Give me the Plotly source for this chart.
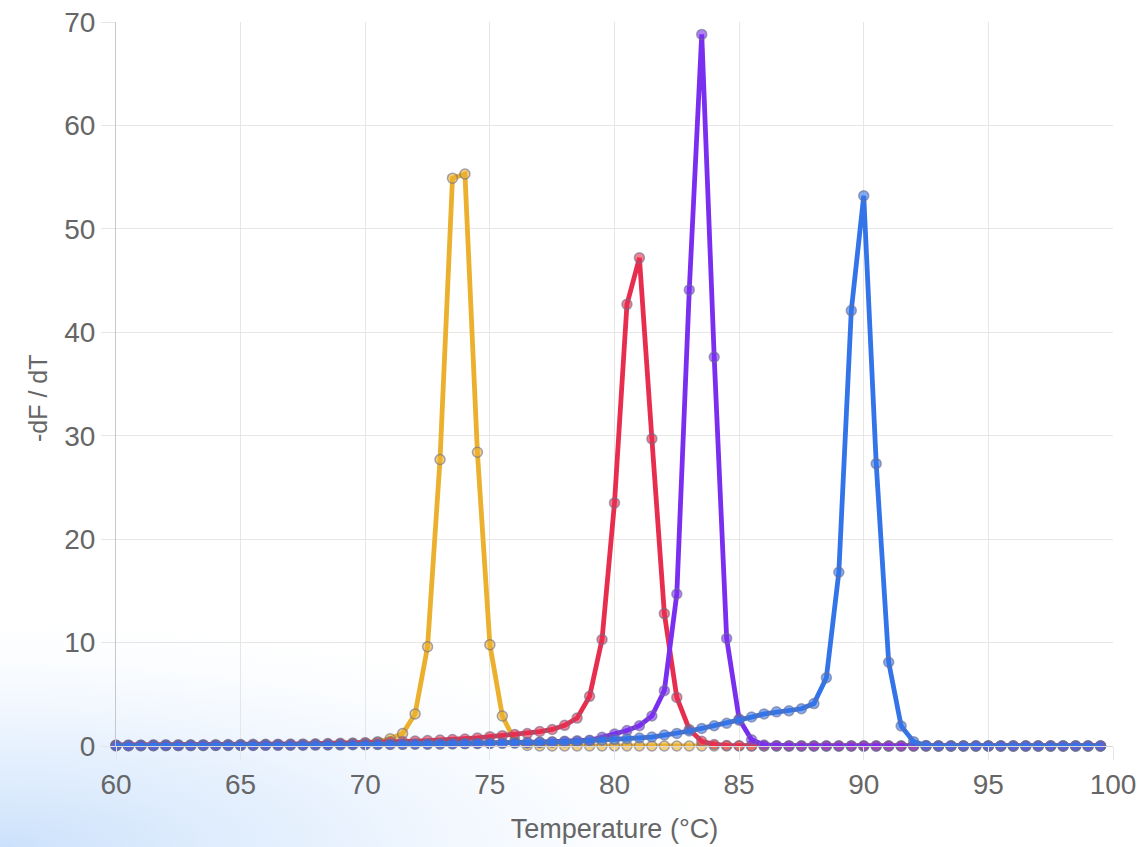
import base64
import plotly.graph_objects as go

temperature = [60.0, 60.5, 61.0, 61.5, 62.0, 62.5, 63.0, 63.5, 64.0, 64.5,
               65.0, 65.5, 66.0, 66.5, 67.0, 67.5, 68.0, 68.5, 69.0, 69.5,
               70.0, 70.5, 71.0, 71.5, 72.0, 72.5, 73.0, 73.5, 74.0, 74.5,
               75.0, 75.5, 76.0, 76.5, 77.0, 77.5, 78.0, 78.5, 79.0, 79.5,
               80.0, 80.5, 81.0, 81.5, 82.0, 82.5, 83.0, 83.5, 84.0, 84.5,
               85.0, 85.5, 86.0, 86.5, 87.0, 87.5, 88.0, 88.5, 89.0, 89.5,
               90.0, 90.5, 91.0, 91.5, 92.0, 92.5, 93.0, 93.5, 94.0, 94.5,
               95.0, 95.5, 96.0, 96.5, 97.0, 97.5, 98.0, 98.5, 99.0, 99.5]

yellow_vals = [0.05, 0.05, 0.05, 0.05, 0.06, 0.06, 0.07, 0.07, 0.08, 0.08,
               0.09, 0.1, 0.1, 0.11, 0.12, 0.13, 0.15, 0.17, 0.2, 0.24,
               0.3, 0.42, 0.7, 1.2, 3.1, 9.6, 27.7, 54.9, 55.3, 28.4,
               9.8, 2.9, 0.5, 0.05, 0, 0, 0, 0, 0, 0,
               0, 0, 0, 0, 0, 0, 0, 0, 0, 0,
               0, 0, 0, 0, 0, 0, 0, 0, 0, 0,
               0, 0, 0, 0, 0, 0, 0, 0, 0, 0,
               0, 0, 0, 0, 0, 0, 0, 0, 0, 0]

red_vals = [0.1, 0.1, 0.1, 0.11, 0.11, 0.12, 0.12, 0.13, 0.13, 0.14,
            0.15, 0.16, 0.17, 0.18, 0.19, 0.2, 0.22, 0.24, 0.26, 0.28,
            0.31, 0.35, 0.4, 0.44, 0.48, 0.52, 0.57, 0.62, 0.68, 0.78,
            0.9, 1.0, 1.1, 1.2, 1.4, 1.6, 2.0, 2.7, 4.8, 10.3,
            23.5, 42.7, 47.2, 29.7, 12.8, 4.7, 1.6, 0.45, 0.15, 0.05,
            0.02, 0.01, 0, 0, 0, 0, 0, 0, 0, 0,
            0, 0, 0, 0, 0, 0, 0, 0, 0, 0,
            0, 0, 0, 0, 0, 0, 0, 0, 0, 0]

purple_vals = [0.03, 0.03, 0.03, 0.03, 0.04, 0.04, 0.04, 0.05, 0.05, 0.05,
               0.06, 0.06, 0.07, 0.07, 0.08, 0.08, 0.09, 0.1, 0.11, 0.12,
               0.13, 0.14, 0.15, 0.16, 0.17, 0.18, 0.2, 0.21, 0.23, 0.25,
               0.27, 0.29, 0.31, 0.34, 0.37, 0.41, 0.45, 0.5, 0.56, 0.85,
               1.16, 1.5, 1.96, 2.9, 5.35, 14.7, 44.1, 68.8, 37.6, 10.4,
               2.6, 0.6, 0.1, 0.03, 0.01, 0, 0, 0, 0, 0,
               0, 0, 0, 0, 0, 0, 0, 0, 0, 0,
               0, 0, 0, 0, 0, 0, 0, 0, 0, 0]

blue_vals = [0.03, 0.03, 0.04, 0.04, 0.05, 0.05, 0.06, 0.06, 0.07, 0.07,
             0.08, 0.08, 0.09, 0.09, 0.1, 0.1, 0.11, 0.12, 0.13, 0.14,
             0.15, 0.16, 0.17, 0.18, 0.19, 0.2, 0.21, 0.22, 0.23, 0.24,
             0.25, 0.26, 0.28, 0.3, 0.33, 0.36, 0.4, 0.44, 0.5, 0.56,
             0.62, 0.7, 0.77, 0.86, 1.06, 1.22, 1.45, 1.7, 1.96, 2.2,
             2.5, 2.8, 3.1, 3.3, 3.4, 3.6, 4.1, 6.6, 16.8, 42.1,
             53.2, 27.3, 8.1, 1.93, 0.42, 0.05, 0.01, 0, 0, 0,
             0, 0, 0, 0, 0, 0, 0, 0, 0, 0]

x_ticks = [60, 65, 70, 75, 80, 85, 90, 95, 100]
y_ticks = [0, 10, 20, 30, 40, 50, 60, 70]

series = [
    ("Sample A", yellow_vals, (235, 176, 45)),
    ("Sample B", red_vals, (232, 46, 78)),
    ("Sample C", purple_vals, (122, 47, 240)),
    ("Sample D", blue_vals, (51, 116, 232)),
]

fig = go.Figure()
for name, vals, (r, g, b) in series:
    fig.add_trace(go.Scatter(
        x=temperature, y=vals, name=name, mode="lines+markers",
        line=dict(color=f"rgb({r},{g},{b})", width=4.8),
        marker=dict(size=10, color=f"rgba({r},{g},{b},0.6)",
                    line=dict(color="rgba(110,110,140,0.6)", width=1.5)),
        cliponaxis=False,
    ))

svg = ('<svg xmlns="http://www.w3.org/2000/svg" width="800" height="250" '
       'viewBox="0 0 800 250" preserveAspectRatio="none">'
       '<defs><radialGradient id="g" cx="0" cy="1" r="1" fx="0" fy="1">'
       '<stop offset="0" stop-color="#cbe1fb" stop-opacity="1"/>'
       '<stop offset="0.45" stop-color="#e0edfd" stop-opacity="0.7"/>'
       '<stop offset="1" stop-color="#ffffff" stop-opacity="0"/>'
       '</radialGradient></defs>'
       '<rect width="800" height="250" fill="url(#g)"/></svg>')
src = "data:image/svg+xml;base64," + base64.b64encode(svg.encode()).decode()

pw, ph = 997, 724
fig.add_layout_image(dict(
    source=src, xref="paper", yref="paper",
    x=-116 / pw, y=-101 / ph, sizex=800 / pw, sizey=250 / ph,
    xanchor="left", yanchor="bottom", sizing="stretch", layer="below",
))

# y-axis title as rotated annotation
fig.add_annotation(
    text="-dF / dT", textangle=-90, showarrow=False,
    xref="paper", yref="paper", x=-78 / pw, y=(746 - 398) / ph,
    xanchor="center", yanchor="middle",
    font=dict(size=25, color="#666666"),
)

font_family = "Liberation Sans, Arial, sans-serif"
fig.update_layout(
    width=1143, height=847,
    margin=dict(l=116, r=30, t=22, b=101),
    paper_bgcolor="white", plot_bgcolor="white",
    showlegend=False,
    font=dict(family=font_family, color="#666666", size=27),
    xaxis=dict(
        range=[60, 100], tickvals=x_ticks, ticktext=[str(v) for v in x_ticks],
        showgrid=True, gridcolor="#e6e6e6", gridwidth=1,
        ticks="outside", ticklen=13, tickcolor="#e6e6e6",
        showline=True, linecolor="#d9d9d9", zeroline=False,
        tickfont=dict(size=28, color="#666666"),
        title=dict(text="Temperature (°C)", font=dict(size=27, color="#666666"),
                   standoff=20),
        automargin=False,
    ),
    yaxis=dict(
        range=[0, 70], tickvals=y_ticks, ticktext=[str(v) for v in y_ticks],
        showgrid=True, gridcolor="#e6e6e6", gridwidth=1,
        ticks="outside", ticklen=14, tickcolor="#e6e6e6",
        showline=True, linecolor="#c8c8c8", zeroline=False,
        tickfont=dict(size=28, color="#666666"),
        automargin=False,
    ),
)

fig.write_html("out.html", config={"displayModeBar": False},
               post_script="document.body.style.margin='0';document.body.style.overflow='hidden';")
